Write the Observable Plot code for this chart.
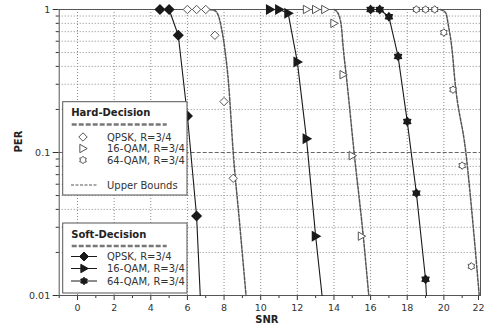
<!DOCTYPE html>
<html>
<head>
<meta charset="utf-8">
<script src="https://cdn.jsdelivr.net/npm/d3@7"></script>
<script src="https://cdn.jsdelivr.net/npm/@observablehq/plot@0.6"></script>
<style>
  html, body { margin: 0; padding: 0; background: white; }
  #wrap { position: relative; width: 485px; height: 328px; }
  #wrap svg { display: block; }
  #legend { position: absolute; left: 0; top: 0; }
</style>
</head>
<body>
<div id="wrap"></div>
<script>
// ---------- data ----------
const xGridTicks = [0, 2, 4, 6, 8, 10, 12, 14, 16, 18, 20];
const xMajorTicks = [0, 2, 4, 6, 8, 10, 12, 14, 16, 18, 20];
const xEdgeTick = [22];
const xMinorTicks = [-1, 1, 3, 5, 7, 9, 11, 13, 15, 17, 19, 21];
const yMajorTicks = [0.01, 0.1, 1];
const yMajorLabels = ["0.01", "0.1", "1"];
const yMinorTicks = [0.02, 0.03, 0.04, 0.05, 0.06, 0.07, 0.08, 0.09, 0.2, 0.3, 0.4, 0.5, 0.6, 0.7, 0.8, 0.9];

// soft decision (filled markers, solid line)
const softQpskX = [4.5, 5, 5.5, 6, 6.5];
const softQpskY = [1, 1, 0.66, 0.18, 0.036];
const softQpskEnd = [6.7, 0.01];
const soft16X = [10.5, 11, 11.5, 12, 12.5, 13];
const soft16Y = [1, 1, 0.94, 0.43, 0.125, 0.026];
const soft16End = [13.35, 0.01];
const soft64X = [16, 16.5, 17, 17.5, 18, 18.5, 19];
const soft64Y = [1, 1, 0.89, 0.47, 0.165, 0.052, 0.013];
const soft64End = [19.05, 0.01];

// hard decision (open markers)
const hardQpskX = [6, 6.5, 7, 7.5, 8, 8.5];
const hardQpskY = [1, 1, 1, 0.66, 0.227, 0.066];
const hard16X = [12.5, 13, 13.5, 14, 14.5, 15, 15.5];
const hard16Y = [1, 1, 1, 0.8, 0.35, 0.095, 0.026];
const hard64X = [18.5, 19, 19.5, 20, 20.5, 21, 21.5];
const hard64Y = [1, 1, 1, 0.69, 0.275, 0.081, 0.016];

// upper bounds (dashed)
const ubQpskX = [7.2, 7.5, 7.7, 7.85, 8.05, 8.25, 8.5, 8.85, 9.2];
const ubQpskY = [1, 0.98, 0.9, 0.75, 0.52, 0.3, 0.1, 0.032, 0.01];
const ub16X = [14.0, 14.2, 14.4, 14.5, 14.7, 15.1, 15.6, 15.9];
const ub16Y = [1, 0.95, 0.77, 0.55, 0.32, 0.1, 0.026, 0.01];
const ub64X = [19.8, 20.1, 20.25, 20.45, 20.6, 21.2, 21.65, 21.93];
const ub64Y = [1, 0.95, 0.77, 0.52, 0.32, 0.1, 0.026, 0.01];

const refLine = [0.1];

const legendHard = ["QPSK, R=3/4", "16-QAM, R=3/4", "64-QAM, R=3/4"];
const legendSoft = ["QPSK, R=3/4", "16-QAM, R=3/4", "64-QAM, R=3/4"];

// ---------- symbols ----------
const rad = (size) => Math.sqrt(size / Math.PI);
const diamond = { draw(c, size) { const r = rad(size);
  c.moveTo(0, -r); c.lineTo(r, 0); c.lineTo(0, r); c.lineTo(-r, 0); c.closePath(); } };
const triRight = { draw(c, size) { const r = rad(size);
  c.moveTo(-0.75 * r, -r); c.lineTo(r, 0); c.lineTo(-0.75 * r, r); c.closePath(); } };
const star6 = { draw(c, size) { const r = rad(size), ri = r * 0.68;
  for (let i = 0; i < 12; i++) { const a = Math.PI / 6 * i - Math.PI / 2; const rr = i % 2 ? ri : r;
    const px = rr * Math.cos(a), py = rr * Math.sin(a); if (i) c.lineTo(px, py); else c.moveTo(px, py); }
  c.closePath(); } };

const rows = (xs, ys) => xs.map((x, i) => ({x, y: ys[i]}));
const lineRows = (xs, ys, end) => rows(xs, ys).concat([{x: end[0], y: end[1]}]);

const dark = "#1a1a1a", gray = "#555";

const chart = Plot.plot({
  width: 485, height: 328,
  marginLeft: 58.7, marginRight: 5, marginTop: 9, marginBottom: 33,
  style: {fontFamily: "DejaVu Sans", fontSize: "10px", color: "#333", background: "white"},
  x: {domain: [-1, 22]},
  y: {type: "log", domain: [0.01, 1]},
  marks: [
    Plot.gridX(xGridTicks, {stroke: "#8a8a8a", strokeOpacity: 1, strokeDasharray: "1,2"}),
    Plot.gridY(yMinorTicks, {stroke: "#8a8a8a", strokeOpacity: 1, strokeDasharray: "1,2"}),
    Plot.ruleY(refLine, {stroke: "#666", strokeWidth: 1.2, strokeDasharray: "4,2"}),
    Plot.axisX(xMajorTicks, {tickSize: 5, tickPadding: 4, label: null, stroke: "#333", fontSize: 9.5}),
    Plot.axisX(xEdgeTick, {tickSize: 5, tickPadding: 4, label: null, stroke: "#333", fontSize: 9.5, dx: -2}),
    Plot.axisX(xMinorTicks, {tickSize: 3, tickFormat: () => "", label: null, stroke: "#333"}),
    Plot.axisY(yMajorTicks, {tickSize: 6, tickPadding: 3, label: null, stroke: "#333", fontSize: 9.5,
      tickFormat: (d) => yMajorLabels[yMajorTicks.indexOf(d)]}),
    Plot.axisY(yMinorTicks, {tickSize: 3, tickFormat: () => "", label: null, stroke: "#333"}),
    Plot.frame({stroke: "#555"}),
    // upper bounds
    Plot.line(rows(ubQpskX, ubQpskY), {x: "x", y: "y", stroke: gray, strokeDasharray: "3,1.5", curve: "monotone-x"}),
    Plot.line(rows(ub16X, ub16Y), {x: "x", y: "y", stroke: gray, strokeDasharray: "3,1.5", curve: "monotone-x"}),
    Plot.line(rows(ub64X, ub64Y), {x: "x", y: "y", stroke: gray, strokeDasharray: "3,1.5", curve: "monotone-x"}),
    // soft lines
    Plot.line(lineRows(softQpskX, softQpskY, softQpskEnd), {x: "x", y: "y", stroke: dark, strokeWidth: 1.1}),
    Plot.line(lineRows(soft16X, soft16Y, soft16End), {x: "x", y: "y", stroke: dark, strokeWidth: 1.1}),
    Plot.line(lineRows(soft64X, soft64Y, soft64End), {x: "x", y: "y", stroke: dark, strokeWidth: 1.1}),
    // hard markers
    Plot.dot(rows(hardQpskX, hardQpskY), {x: "x", y: "y", symbol: diamond, r: 4.2, fill: "white", stroke: gray, strokeWidth: 1}),
    Plot.dot(rows(hard16X, hard16Y), {x: "x", y: "y", symbol: triRight, r: 4.2, fill: "white", stroke: gray, strokeWidth: 1}),
    Plot.dot(rows(hard64X, hard64Y), {x: "x", y: "y", symbol: star6, r: 3.8, fill: "white", stroke: gray, strokeWidth: 1}),
    // soft markers
    Plot.dot(rows(softQpskX, softQpskY), {x: "x", y: "y", symbol: diamond, r: 4.5, fill: dark, stroke: dark}),
    Plot.dot(rows(soft16X, soft16Y), {x: "x", y: "y", symbol: triRight, r: 4.2, fill: dark, stroke: dark}),
    Plot.dot(rows(soft64X, soft64Y), {x: "x", y: "y", symbol: star6, r: 3.8, fill: dark, stroke: dark}),
    // axis titles
    Plot.text(["PER"], {frameAnchor: "left", dx: -40, rotate: -90, fontWeight: "bold", fontSize: 10, fill: "#222"}),
    Plot.text(["SNR"], {frameAnchor: "bottom", dy: 27, dx: -3, fontWeight: "bold", fontSize: 10, fill: "#222"})
  ]
});
document.getElementById("wrap").appendChild(chart);

// ---------- legends (overlay) ----------
const ov = d3.select("#wrap").append("svg").attr("id", "legend")
  .attr("width", 485).attr("height", 328)
  .style("font-family", "DejaVu Sans");

function sym(g, type, r, x, y, fill, stroke) {
  g.append("path").attr("transform", `translate(${x},${y})`)
    .attr("d", d3.symbol(type, r * r * Math.PI)())
    .attr("fill", fill).attr("stroke", stroke);
}
function box(x, y, w, h, title, titleY, sepY) {
  const g = ov.append("g");
  g.append("rect").attr("x", x).attr("y", y).attr("width", w).attr("height", h)
    .attr("fill", "white").attr("stroke", "#555");
  g.append("text").attr("x", x + 8.5).attr("y", titleY).text(title)
    .attr("font-weight", "bold").attr("font-size", 10).attr("fill", "#222");
  g.append("line").attr("x1", x + 9).attr("x2", x + 104).attr("y1", sepY).attr("y2", sepY)
    .attr("stroke", "#777").attr("stroke-width", 2.5).attr("stroke-dasharray", "5,2");
  return g;
}
const gh = box(62.7, 101.7, 124.3, 93.3, "Hard-Decision", 115.5, 124.5);
const hardSyms = [[diamond, 4.2], [triRight, 4.2], [star6, 3.8]];
[137, 148.5, 160].forEach((cy, i) => {
  sym(gh, hardSyms[i][0], hardSyms[i][1], 83, cy, "white", gray);
  gh.append("text").attr("x", 107).attr("y", cy + 3.5).text(legendHard[i]).attr("font-size", 10).attr("fill", "#333");
});
gh.append("line").attr("x1", 71).attr("x2", 97).attr("y1", 185).attr("y2", 185)
  .attr("stroke", gray).attr("stroke-dasharray", "3,1.5");
gh.append("text").attr("x", 107).attr("y", 188.5).text("Upper Bounds").attr("font-size", 10).attr("fill", "#333");

const gs = box(62.7, 223, 124.3, 70, "Soft-Decision", 237.5, 246);
const softSyms = [[diamond, 4.5], [triRight, 4.2], [star6, 3.8]];
[256.5, 268.5, 281].forEach((cy, i) => {
  gs.append("line").attr("x1", 71).attr("x2", 97).attr("y1", cy).attr("y2", cy).attr("stroke", dark);
  sym(gs, softSyms[i][0], softSyms[i][1], 84, cy, dark, dark);
  gs.append("text").attr("x", 107).attr("y", cy + 3.5).text(legendSoft[i]).attr("font-size", 10).attr("fill", "#333");
});
</script>
</body>
</html>
